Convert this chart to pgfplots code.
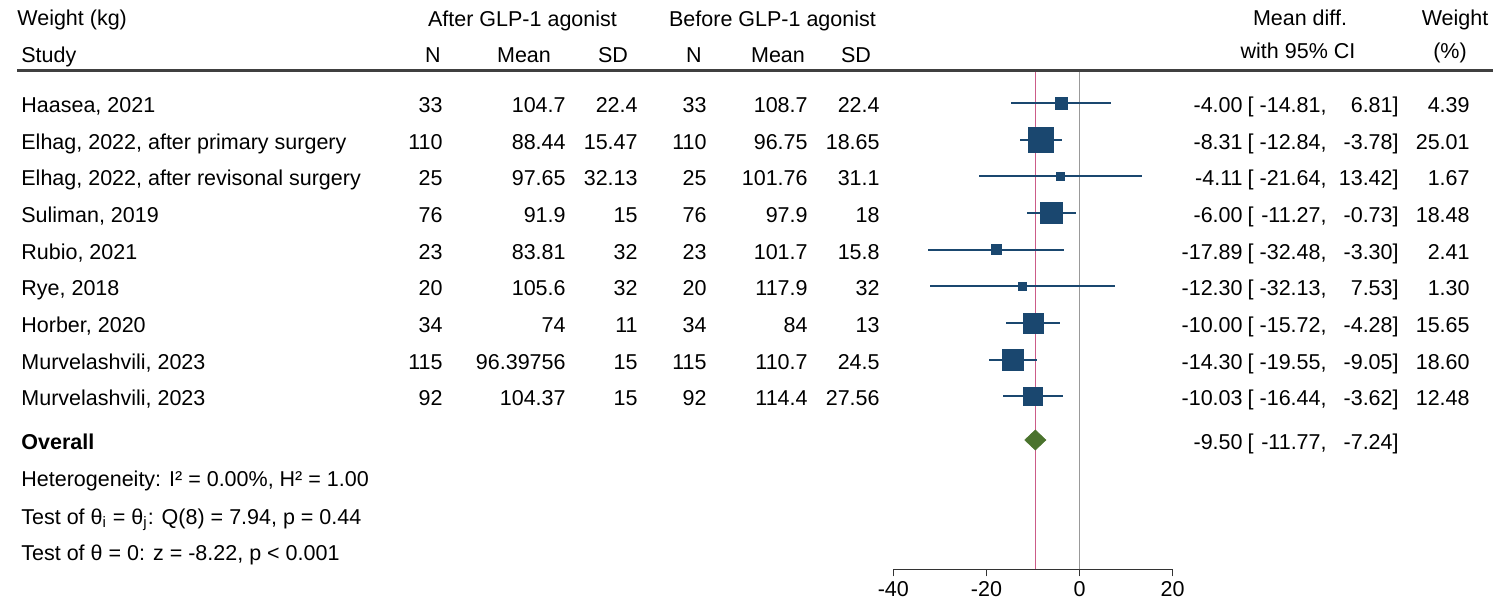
\documentclass[border=0pt]{standalone}
\usepackage{fontspec}
\setmainfont{Liberation Sans}
\usepackage{pgfplots}
\usepackage{pgfplotstable}
\pgfplotsset{compat=1.18}
\definecolor{navy}{RGB}{26,71,111}
\definecolor{ovgreen}{RGB}{74,115,45}
\definecolor{refred}{RGB}{204,92,136}

% y = -(pixel row of marker centre); est, lo, hi = mean difference and 95% CI; ms = half side of square (pt)
\pgfplotstableread{
y est lo hi ms
-103.3 -4.00 -14.81 6.81 3.00
-139.7 -8.31 -12.84 -3.78 6.13
-176.3 -4.11 -21.64 13.42 2.14
-213.0 -6.00 -11.27 -0.73 5.37
-249.7 -17.89 -32.48 -3.30 2.42
-286.3 -12.30 -32.13 7.53 1.98
-323.0 -10.00 -15.72 -4.28 5.00
-359.7 -14.30 -19.55 -9.05 5.39
-396.3 -10.03 -16.44 -3.62 4.55
}\studies

\newcommand{\R}[3]{\node[anchor=base east,inner sep=0pt] at (#1,#2) {#3};}
\newcommand{\Lf}[3]{\node[anchor=base west,inner sep=0pt] at (#1,#2) {#3};}
\newcommand{\C}[3]{\node[anchor=base,inner sep=0pt] at (#1,#2) {#3};}
\newcommand{\Row}[7]{%
  \R{443}{#1}{#2}\R{566}{#1}{#3}\R{638}{#1}{#4}%
  \R{707}{#1}{#5}\R{808}{#1}{#6}\R{880}{#1}{#7}}
\newcommand{\CI}[4]{\R{1243}{#1}{#2}\Lf{1247.3}{#1}{[}\R{1327}{#1}{#3,}\R{1399}{#1}{#4]}}
\newcommand{\W}[2]{\R{1470}{#1}{#2}}

\begin{document}
\fontsize{10.75}{12.9}\selectfont
\begin{tikzpicture}
\useasboundingbox (0pt,0pt) rectangle (746.5pt,-301pt);
\begin{axis}[
  at={(446.65pt,-284.65pt)}, anchor=south west,
  scale only axis, width=139.7pt, height=248.65pt,
  xmin=-40, xmax=20, ymin=-569.3, ymax=-72,
  axis x line=bottom, axis y line=none,
  xtick={-40,-20,0,20},
  tick align=outside, major tick length=3.5pt,
  x axis line style={-, line width=0.8pt, black!80},
  xtick style={line width=0.8pt, black!80},
  clip=false,
  /pgf/number format/assume math mode=true,
  xticklabel style={font=\fontsize{10.75}{12.9}\selectfont, yshift=1pt},
]
\addplot[refred, line width=0.7pt] coordinates {(-9.50,-569.3) (-9.50,-72)};
\addplot[gray!80, line width=0.7pt] coordinates {(0,-569.3) (0,-72)};
\addplot[navy, only marks, mark=square*,
  scatter, scatter/use mapped color={draw=navy, fill=navy},
  visualization depends on={\thisrow{ms}\as\ms},
  scatter/@pre marker code/.append style={/tikz/mark size=\ms pt, /tikz/line width=0pt},
  error bars/.cd, x dir=both, x explicit, error mark=none,
  error bar style={line width=0.95pt, navy}]
  table[x=est, y=y, x error minus expr=\thisrow{est}-\thisrow{lo}, x error plus expr=\thisrow{hi}-\thisrow{est}] {\studies};
\addplot[fill=ovgreen, draw=ovgreen, line width=0.3pt]
  coordinates {(-11.77,-440) (-9.50,-430) (-7.24,-440) (-9.50,-450)} -- cycle;
\end{axis}

\begin{scope}[x=0.5pt,y=-0.5pt]
% header
\Lf{17}{25}{Weight (kg)}
\C{522.5}{26.5}{After GLP-1 agonist}
\C{772.5}{26.5}{Before GLP-1 agonist}
\C{1300}{25}{Mean diff.}
\C{1455}{25}{Weight}
\Lf{21}{62}{Study}
\R{441}{62}{N}
\C{524}{62}{Mean}
\C{613}{62}{SD}
\C{694}{62}{N}
\C{778}{62}{Mean}
\C{856}{62}{SD}
\C{1298}{58}{with 95\% CI}
\C{1450}{58}{(\%)}
\draw[line width=1.3pt, black!75] (17,70.5) -- (1493,70.5);
% rows
\Lf{21}{112.5}{Haasea, 2021}
\Row{112.5}{33}{104.7}{22.4}{33}{108.7}{22.4}\CI{112.5}{-4.00}{-14.81}{6.81}\W{112.5}{4.39}
\Lf{21}{149.2}{Elhag, 2022, after primary surgery}
\Row{149.2}{110}{88.44}{15.47}{110}{96.75}{18.65}\CI{149.2}{-8.31}{-12.84}{-3.78}\W{149.2}{25.01}
\Lf{21}{185.8}{Elhag, 2022, after revisonal surgery}
\Row{185.8}{25}{97.65}{32.13}{25}{101.76}{31.1}\CI{185.8}{-4.11}{-21.64}{13.42}\W{185.8}{1.67}
\Lf{21}{222.5}{Suliman, 2019}
\Row{222.5}{76}{91.9}{15}{76}{97.9}{18}\CI{222.5}{-6.00}{-11.27}{-0.73}\W{222.5}{18.48}
\Lf{21}{259.2}{Rubio, 2021}
\Row{259.2}{23}{83.81}{32}{23}{101.7}{15.8}\CI{259.2}{-17.89}{-32.48}{-3.30}\W{259.2}{2.41}
\Lf{21}{295.8}{Rye, 2018}
\Row{295.8}{20}{105.6}{32}{20}{117.9}{32}\CI{295.8}{-12.30}{-32.13}{7.53}\W{295.8}{1.30}
\Lf{21}{332.5}{Horber, 2020}
\Row{332.5}{34}{74}{11}{34}{84}{13}\CI{332.5}{-10.00}{-15.72}{-4.28}\W{332.5}{15.65}
\Lf{21}{369.2}{Murvelashvili, 2023}
\Row{369.2}{115}{96.39756}{15}{115}{110.7}{24.5}\CI{369.2}{-14.30}{-19.55}{-9.05}\W{369.2}{18.60}
\Lf{21}{405.8}{Murvelashvili, 2023}
\Row{405.8}{92}{104.37}{15}{92}{114.4}{27.56}\CI{405.8}{-10.03}{-16.44}{-3.62}\W{405.8}{12.48}
% overall
\Lf{21}{449}{\bfseries Overall}
\CI{449}{-9.50}{-11.77}{-7.24}
\Lf{21}{486.5}{Heterogeneity: I² = 0.00\%, H² = 1.00}
\Lf{21}{524.2}{Test of θ\textsubscript{i} = θ\textsubscript{j}: Q(8) = 7.94, p = 0.44}
\Lf{21}{560.8}{Test of θ = 0: z = -8.22, p < 0.001}
\end{scope}
\end{tikzpicture}
\end{document}
